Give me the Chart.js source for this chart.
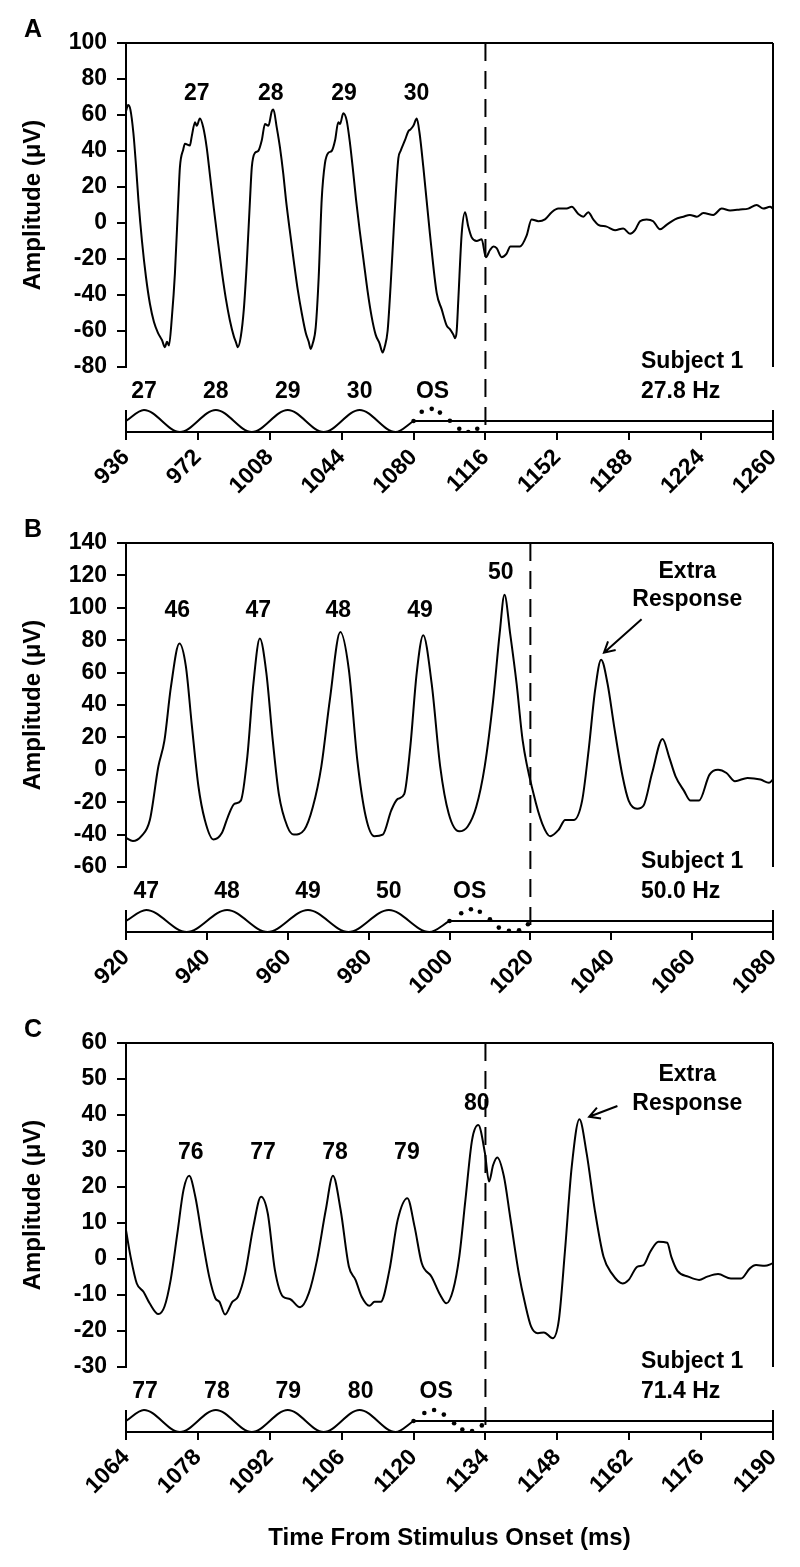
<!DOCTYPE html>
<html>
<head>
<meta charset="utf-8">
<script src="https://cdn.jsdelivr.net/npm/chart.js@4.4.1/dist/chart.umd.min.js"></script>
<style>
  body { margin: 0; background: #fff; }
  #wrap { position: relative; width: 800px; height: 1567px; background: #fff; }
  canvas { position: absolute; left: 0; }
</style>
</head>
<body>
<div id="wrap">
  <canvas id="chartA" width="800" height="500" style="top:0px"></canvas>
  <canvas id="chartB" width="800" height="500" style="top:500px"></canvas>
  <canvas id="chartC" width="800" height="567" style="top:1000px"></canvas>
</div>
<script>
// ---------- Panel A : 27.8 Hz ----------
const ticksXA = [936, 1260, 36];
const ticksYA = [-80, 100, 20];
const onsetA = 1116;
const timeA = [936, 937, 938.2, 939.7, 941, 942.2, 944, 946, 948, 950, 952, 954, 955.5, 956.5, 957.5,
  959, 960.5, 962.2, 963, 964.7, 965.5, 968, 968.9, 970.6, 971.4, 973, 974.7, 976.4, 978.1, 980,
  982, 984, 986, 988, 990, 991, 992, 993.5, 995, 996.5, 998.1, 999, 1000.6, 1002.2, 1004, 1005.6, 1007.3, 1009, 1009.8, 1011.5, 1013.1, 1014.8, 1016.1,
  1018, 1020, 1022, 1024, 1026, 1027.5, 1028.5, 1029.5, 1031, 1032.5, 1034, 1035.6, 1037.3, 1039, 1040.7, 1042.3, 1043.2, 1044.8, 1046.5, 1048.2, 1049.8, 1051.2,
  1053, 1055, 1057, 1059, 1061, 1063, 1064.5, 1065.5, 1067, 1068.5, 1070, 1071.2, 1072.4, 1073.5, 1075.7, 1077.4, 1078.5, 1079.9, 1081.6, 1083, 1084.9,
  1088.2, 1091.6, 1094.1, 1096.6, 1098.2, 1099.9, 1100.8, 1101.6, 1102.4, 1104.1, 1105.8, 1107.4, 1109.1, 1111.6, 1114.1, 1116.2, 1118.3, 1120, 1121.6, 1124.1,
  1126.6, 1128.5, 1130, 1133.3, 1136.6, 1139.1, 1142.5, 1145.8, 1149.2, 1152.5, 1156.7, 1159.2, 1162.5, 1165, 1167.5, 1170, 1172.5, 1176.7, 1180.9, 1185,
  1188.4, 1190.9, 1193.4, 1196.7, 1200, 1203.4, 1206.7, 1210.9, 1215.1, 1218.4, 1221.8, 1225.1, 1230.1, 1234.3, 1238.5, 1243.5, 1247.6, 1251.8, 1255.1, 1258.5, 1260];
const ampA = [62, 65.5, 63, 50, 32, 13, -10, -30, -45, -55, -61, -65, -69, -66, -68,
  -52, -28, 13, 31, 41, 44, 43, 48, 56, 54, 58, 53, 42, 26, 8,
  -10, -27, -42, -54, -63, -66, -69, -63, -48, -22, 13, 31, 39, 40, 46, 55, 54, 62, 63, 53, 42, 27, 13,
  -4, -21, -37, -50, -61, -66, -70, -67, -58, -30, 13, 33, 39, 40, 46, 56, 55, 61, 57, 44, 28, 13,
  -4, -21, -38, -52, -62, -67, -72, -69, -60, -35, -5, 18, 36, 40, 46, 51, 52, 54, 58, 50, 31,
  -6, -39, -48, -57, -59, -62, -64, -60, -43, -6, 6, -2, -8, -10, -9, -19, -15, -13, -14, -19,
  -17, -13, -13, -13, -7, 2, 1, 2, 6, 8, 8, 9, 5, 3.5, 6, 2, -1, -2, -4, -3,
  -6, -4, 1, 2, 1, -3.5, -1, 2, 3.5, 4.5, 3.5, 5.5, 4.5, 8, 7, 7.5, 8, 10, 8, 9, 8];
const stimTimeA = [936, 945, 963, 981, 999, 1017, 1035, 1053, 1071, 1080];
const stimLevelA = [0.5, 1, 0, 1, 0, 1, 0, 1, 0, 0.5];
const flatTimeA = [1080, 1260];
const osTimeA = [1080, 1084.1, 1089.1, 1093.2, 1098.2, 1102.9, 1107.4, 1111.9];
const osLevelA = [0.5, 0.92, 1.05, 0.88, 0.51, 0.15, 0, 0.15];
const peakTextA = ['27', '28', '29', '30'];
const peakTimeA = [971.4, 1008.5, 1045.2, 1081.5];
const peakAmpA = [72, 72, 72, 72];
const stimTextA = ['27', '28', '29', '30', 'OS'];
const stimTextTimeA = [945, 981, 1017, 1053, 1089.5];
const subjectA = ['Subject 1', '27.8 Hz'];

// ---------- Panel B : 50.0 Hz ----------
const ticksXB = [920, 1080, 20];
const ticksYB = [-60, 140, 20];
const onsetB = 1020;
const timeB = [920, 921.7, 923.8, 925.9, 928, 929.5, 931.1, 933.2, 934.8, 936.3, 937.9, 939.5, 941.6, 943.7, 945.2,
  946.8, 948.4, 950, 951.5, 953.1, 954.7, 956.3, 957.8, 959.9, 961.5, 964.1, 966.2, 968.3, 970.4, 973,
  975.1, 977.2, 979.3, 981.4, 983.5, 985.6, 987.2, 988.8, 990.3, 991.9, 993.5, 995.6, 997.7, 999.8, 1002.4,
  1004.5, 1006.6, 1008.7, 1010.8, 1012.4, 1013.6, 1015, 1016.6, 1018.1, 1020.8, 1022.9, 1024.9, 1027, 1028.6, 1030.7,
  1032.8, 1034.4, 1036, 1037.5, 1039.1, 1040.7, 1042.8, 1044.3, 1046.4, 1048, 1050.1, 1052.7, 1054.3, 1055.9, 1058,
  1059.6, 1061.7, 1064.3, 1066.4, 1068.5, 1070.6, 1073.7, 1076.9, 1079, 1080];
const ampB = [-42, -44, -41, -31, 2, 18, 51, 78, 64, 27, -10, -31, -43, -39, -29,
  -21, -19, 8, 53, 81, 60, 18, -15, -35, -40, -37, -23, 2, 43, 85,
  62, 6, -29, -41, -40, -25, -18, -15, 14, 60, 83, 53, 2, -27, -38,
  -35, -23, 2, 43, 84, 108, 84, 53, 18, -15, -33, -41, -37, -31, -31,
  -19, 12, 49, 68, 53, 27, -4, -19, -24, -22, -2, 19, 8, -4, -13,
  -19, -19, -3, 0, -2, -7, -5, -6, -8, -6];
const stimTimeB = [920, 925, 935, 945, 955, 965, 975, 985, 995, 1000];
const stimLevelB = [0.5, 1, 0, 1, 0, 1, 0, 1, 0, 0.5];
const flatTimeB = [1000, 1080];
const osTimeB = [1000, 1002.9, 1005.3, 1007.5, 1010, 1012.2, 1014.7, 1017.2, 1019.4];
const osLevelB = [0.5, 0.85, 1.03, 0.92, 0.58, 0.2, 0.05, 0.08, 0.35];
const peakTextB = ['46', '47', '48', '49', '50'];
const peakTimeB = [932.7, 952.7, 972.5, 992.7, 1012.7];
const peakAmpB = [98, 98, 98, 98, 121.7];
const stimTextB = ['47', '48', '49', '50', 'OS'];
const stimTextTimeB = [925, 945, 965, 985, 1005];
const subjectB = ['Subject 1', '50.0 Hz'];
const extraB = { time: 1058.8, amp: [122.3, 104.8], tail: [1047.5, 92.9], head: [1038.2, 72.3] };

// ---------- Panel C : 71.4 Hz ----------
const ticksXC = [1064, 1190, 14];
const ticksYC = [-30, 60, 10];
const onsetC = 1134;
const timeC = [1064, 1064.9, 1066.1, 1067.4, 1068.6, 1070.3, 1071.5, 1072.7, 1074, 1075.2, 1076.3, 1077.5, 1078.9, 1080.2, 1081.4,
  1082.2, 1083.3, 1084.7, 1085.8, 1087.2, 1088.8, 1090.3, 1091.6, 1093, 1094.6, 1095.9, 1097.9, 1099.6, 1101.2, 1102.9,
  1104.3, 1105.8, 1107.4, 1108.7, 1109.9, 1111.4, 1112.4, 1113.6, 1115.3, 1116.9, 1118.8, 1120.2, 1121.6, 1123.5, 1125.2,
  1126.4, 1127.7, 1128.9, 1130.1, 1131.4, 1132.6, 1133.9, 1134.7, 1135.5, 1136.3, 1137.6, 1138.8, 1140.5, 1141.7, 1142.9,
  1144.2, 1145.4, 1147.1, 1148.3, 1149.5, 1150.8, 1152.3, 1153.7, 1155.3, 1157, 1158.6, 1160.7, 1161.9, 1163.6, 1164.8,
  1166.1, 1167.7, 1169.4, 1170.2, 1171.4, 1173.5, 1175.6, 1177.2, 1179.3, 1181.8, 1183.8, 1185.5, 1186.7, 1188.4, 1190];
const ampC = [8, 0.6, -6.8, -9.1, -12.3, -15.3, -13.2, -5.8, 7.1, 19.2, 23.1, 17.3, 5.3, -4.9, -10.9,
  -11.9, -15.4, -11.9, -10.5, -4, 9, 17.3, 12.7, -3.1, -10.5, -11.1, -13.4, -9.5, -0.3, 13.6,
  23.1, 13.6, -2.1, -5.8, -10.5, -13, -11.9, -11.9, -3.1, 10.8, 16.9, 9, -1.2, -4.9, -10,
  -12.3, -8.6, 0.6, 16.4, 33.1, 37.2, 29.4, 21.5, 26.1, 28.2, 22.9, 11.8, -4, -12.3, -18.8,
  -20.6, -20.4, -22, -16.9, 2.5, 25.6, 38.8, 29.4, 13.6, 0.6, -4, -6.8, -5.8, -2.1, -1.7,
  2, 4.8, 4.5, 0.6, -3.3, -4.9, -5.8, -4.9, -4.2, -5.4, -5.4, -2.6, -1.7, -1.9, -1.2];
const stimTimeC = [1064, 1067.5, 1074.5, 1081.5, 1088.5, 1095.5, 1102.5, 1109.5, 1116.5, 1120];
const stimLevelC = [0.5, 1, 0, 1, 0, 1, 0, 1, 0, 0.5];
const flatTimeC = [1120, 1190];
const osTimeC = [1120, 1122.1, 1124, 1125.9, 1127.9, 1129.5, 1131.4, 1133.3];
const osLevelC = [0.5, 0.86, 1, 0.79, 0.4, 0.11, 0.04, 0.3];
const peakTextC = ['76', '77', '78', '79', '80'];
const peakTimeC = [1076.6, 1090.7, 1104.7, 1118.7, 1132.3];
const peakAmpC = [29.6, 29.6, 29.6, 29.6, 43.2];
const stimTextC = ['77', '78', '79', '80', 'OS'];
const stimTextTimeC = [1067.7, 1081.7, 1095.6, 1109.7, 1124.4];
const subjectC = ['Subject 1', '71.4 Hz'];
const extraC = { time: 1173.3, amp: [51.1, 43.1], tail: [1159.7, 42.5], head: [1154.2, 39.5] };

const FONT = '"Liberation Sans", Arial, sans-serif';
const stimTop = 2.95;      // strip axis range, sine runs 0..1
const stimTextLevel = 1.83;

function pts(xs, ys) { return xs.map((x, i) => ({ x: x, y: ys[i] })); }

function makePanel(id, p) {
  const decor = {
    id: 'decor',
    afterDatasetsDraw(chart) {
      const { ctx, chartArea: a, scales } = chart;
      const x = scales.x, y = scales.y, ys = scales.ys;
      ctx.save();
      ctx.strokeStyle = '#000';
      ctx.fillStyle = '#000';
      ctx.lineWidth = 2;
      // frame: top and right of amplitude box
      ctx.beginPath();
      ctx.moveTo(a.left, a.top); ctx.lineTo(a.right, a.top);
      ctx.moveTo(a.right, a.top); ctx.lineTo(a.right, y.bottom);
      // strip ends
      ctx.moveTo(a.left, ys.getPixelForValue(1)); ctx.lineTo(a.left, ys.getPixelForValue(0));
      ctx.moveTo(a.right, ys.getPixelForValue(1)); ctx.lineTo(a.right, ys.getPixelForValue(0));
      ctx.stroke();
      // stimulus offset line
      ctx.setLineDash([18, 10]);
      ctx.beginPath();
      const ox = x.getPixelForValue(p.onset);
      ctx.moveTo(ox, a.top); ctx.lineTo(ox, a.bottom);
      ctx.stroke();
      ctx.setLineDash([]);
      // texts
      ctx.textAlign = 'center';
      ctx.textBaseline = 'middle';
      ctx.font = 'bold 23px ' + FONT;
      p.peakText.forEach((t, i) => ctx.fillText(t, x.getPixelForValue(p.peakTime[i]), y.getPixelForValue(p.peakAmp[i])));
      p.stimText.forEach((t, i) => ctx.fillText(t, x.getPixelForValue(p.stimTextTime[i]), ys.getPixelForValue(stimTextLevel)));
      ctx.textAlign = 'left';
      const sx = a.right - 132;
      ctx.fillText(p.subject[0], sx, y.bottom - 5);
      ctx.fillText(p.subject[1], sx, ys.getPixelForValue(stimTextLevel));
      if (p.extra) {
        ctx.textAlign = 'center';
        const ex = x.getPixelForValue(p.extra.time);
        ctx.fillText('Extra', ex, y.getPixelForValue(p.extra.amp[0]));
        ctx.fillText('Response', ex, y.getPixelForValue(p.extra.amp[1]));
        const tx = x.getPixelForValue(p.extra.tail[0]), ty = y.getPixelForValue(p.extra.tail[1]);
        const hx = x.getPixelForValue(p.extra.head[0]), hy = y.getPixelForValue(p.extra.head[1]);
        const ang = Math.atan2(hy - ty, hx - tx);
        ctx.beginPath();
        ctx.moveTo(tx, ty); ctx.lineTo(hx, hy);
        ctx.moveTo(hx - 12 * Math.cos(ang - 0.5), hy - 12 * Math.sin(ang - 0.5));
        ctx.lineTo(hx, hy);
        ctx.lineTo(hx - 12 * Math.cos(ang + 0.5), hy - 12 * Math.sin(ang + 0.5));
        ctx.stroke();
      }
      // panel letter
      ctx.textAlign = 'center';
      ctx.font = 'bold 25px ' + FONT;
      ctx.fillText(p.letter, 33, 30);
      ctx.restore();
    }
  };

  const tickFont = { family: FONT, size: 23, weight: 'bold' };
  return new Chart(document.getElementById(id), {
    type: 'line',
    data: {
      datasets: [
        { data: pts(p.time, p.amp), yAxisID: 'y', borderColor: '#000', borderWidth: 2, pointRadius: 0, cubicInterpolationMode: 'monotone' },
        { data: pts(p.stimTime, p.stimLevel), yAxisID: 'ys', borderColor: '#000', borderWidth: 2, pointRadius: 0, cubicInterpolationMode: 'monotone' },
        { data: pts(p.flatTime, [0.5, 0.5]), yAxisID: 'ys', borderColor: '#000', borderWidth: 2, pointRadius: 0 },
        { data: pts(p.osTime, p.osLevel), yAxisID: 'ys', showLine: false, pointRadius: 2.3, pointBorderWidth: 0, pointBackgroundColor: '#000' }
      ]
    },
    options: {
      responsive: false,
      animation: false,
      devicePixelRatio: 1,
      layout: { padding: { top: 43, right: 27, left: 0, bottom: 0 } },
      plugins: { legend: { display: false }, tooltip: { enabled: false } },
      scales: {
        x: {
          type: 'linear', min: p.ticksX[0], max: p.ticksX[1],
          afterFit: s => { s.height = p.xHeight; },
          ticks: { stepSize: p.ticksX[2], minRotation: 45, maxRotation: 45, autoSkip: false, color: '#000', font: tickFont, padding: 4,
                   callback: v => String(v) },
          grid: { drawOnChartArea: false, color: '#000', lineWidth: 2, tickLength: 8 },
          border: { color: '#000', width: 2 },
          title: { display: !!p.xTitle, text: p.xTitle || '', color: '#000', font: { family: FONT, size: 24, weight: 'bold' }, padding: { top: 0, bottom: 14 } }
        },
        y: {
          type: 'linear', position: 'left', stack: 'left', stackWeight: 324, weight: 1,
          min: p.ticksY[0], max: p.ticksY[1],
          afterFit: s => { s.width = 126; },
          ticks: { stepSize: p.ticksY[2], autoSkip: false, color: '#000', font: tickFont, padding: 10, callback: v => String(v) },
          grid: { drawOnChartArea: false, color: '#000', lineWidth: 2, tickLength: 9 },
          border: { color: '#000', width: 2 },
          title: { display: true, text: 'Amplitude (μV)', color: '#000', font: { family: FONT, size: 24, weight: 'bold' }, padding: { top: 19, bottom: 0 } }
        },
        ys: {
          type: 'linear', position: 'left', stack: 'left', stackWeight: 65, weight: 0,
          min: 0, max: stimTop, display: false,
          afterFit: s => { s.width = 126; }
        }
      }
    },
    plugins: [decor]
  });
}

makePanel('chartA', { letter: 'A', ticksX: ticksXA, ticksY: ticksYA, onset: onsetA, time: timeA, amp: ampA,
  stimTime: stimTimeA, stimLevel: stimLevelA, flatTime: flatTimeA, osTime: osTimeA, osLevel: osLevelA,
  peakText: peakTextA, peakTime: peakTimeA, peakAmp: peakAmpA, stimText: stimTextA, stimTextTime: stimTextTimeA,
  subject: subjectA, xHeight: 68 });
makePanel('chartB', { letter: 'B', ticksX: ticksXB, ticksY: ticksYB, onset: onsetB, time: timeB, amp: ampB,
  stimTime: stimTimeB, stimLevel: stimLevelB, flatTime: flatTimeB, osTime: osTimeB, osLevel: osLevelB,
  peakText: peakTextB, peakTime: peakTimeB, peakAmp: peakAmpB, stimText: stimTextB, stimTextTime: stimTextTimeB,
  subject: subjectB, extra: extraB, xHeight: 68 });
makePanel('chartC', { letter: 'C', ticksX: ticksXC, ticksY: ticksYC, onset: onsetC, time: timeC, amp: ampC,
  stimTime: stimTimeC, stimLevel: stimLevelC, flatTime: flatTimeC, osTime: osTimeC, osLevel: osLevelC,
  peakText: peakTextC, peakTime: peakTimeC, peakAmp: peakAmpC, stimText: stimTextC, stimTextTime: stimTextTimeC,
  subject: subjectC, extra: extraC, xHeight: 135, xTitle: 'Time From Stimulus Onset (ms)' });
</script>
</body>
</html>
